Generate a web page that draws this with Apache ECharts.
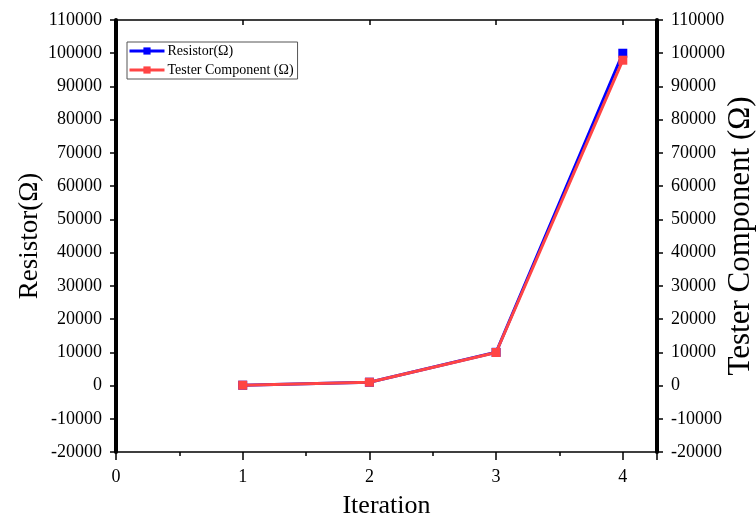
<!DOCTYPE html>
<html>
<head>
<meta charset="utf-8">
<script src="https://cdn.jsdelivr.net/npm/echarts@6/dist/echarts.min.js"></script>
<style>html,body{margin:0;padding:0;background:#fff}#c{width:756px;height:517px}</style>
</head>
<body>
<div id="c"></div>
<script>
const iterations = [1, 2, 3, 4];
const resistorValues = [100, 1000, 10000, 100000];
const testerValues = [100, 1000, 9950, 97900];
const yTickMin = -20000, yTickMax = 110000, yTickStep = 10000;
const xTickMin = 0, xTickMax = 4.27;
const seriesNames = ['Resistor(\u03A9)', 'Tester Component (\u03A9)'];
const axisTitles = { x: 'Iteration', yLeft: 'Resistor(\u03A9)', yRight: 'Tester Component (\u03A9)' };

const FONT = 'Liberation Serif';
const chart = echarts.init(document.getElementById('c'), null, { renderer: 'canvas' });

const pair = (xs, ys) => xs.map((x, i) => [x, ys[i]]);

const yAxisBase = {
  type: 'value', min: yTickMin, max: yTickMax, interval: yTickStep,
  splitLine: { show: false },
  axisLine: { show: true, onZero: false, lineStyle: { color: '#000', width: 4 } },
  axisTick: { show: true, inside: false, length: 6, lineStyle: { color: '#000', width: 1.5 } },
  axisLabel: { color: '#000', fontFamily: FONT, fontSize: 18, margin: 14, formatter: v => String(v) },
  nameLocation: 'middle',
  nameMoveOverlap: false,
  nameTextStyle: { color: '#000', fontFamily: FONT }
};

chart.setOption({
  animation: false,
  backgroundColor: '#fff',
  grid: { left: 116, right: 99, top: 20, bottom: 65, containLabel: false, outerBoundsMode: 'none' },
  legend: {
    orient: 'vertical', left: 127, top: 42,
    borderColor: '#555', borderWidth: 1, padding: [2, 4, 2, 1],
    itemWidth: 35, itemHeight: 9, itemGap: 5,
    lineStyle: { width: 3 },
    textStyle: { color: '#000', fontFamily: FONT, fontSize: 14, padding: [0, 0, 0, -2] },
    data: seriesNames
  },
  xAxis: [
    {
      type: 'value', min: xTickMin, max: xTickMax, interval: 1, position: 'bottom',
      name: axisTitles.x, nameLocation: 'middle', nameGap: 41, nameMoveOverlap: false,
      nameTextStyle: { color: '#000', fontFamily: FONT, fontSize: 26 },
      splitLine: { show: false },
      axisLine: { show: true, onZero: false, lineStyle: { color: '#000', width: 1.5 } },
      axisTick: { show: true, length: 8, lineStyle: { color: '#000', width: 1.5 } },
      axisLabel: { color: '#000', fontFamily: FONT, fontSize: 18, margin: 16,
        formatter: v => (Math.abs(v - Math.round(v)) < 1e-9 ? String(Math.round(v)) : '') }
    },
    {
      type: 'value', min: xTickMin, max: xTickMax, interval: 0.5, position: 'bottom',
      splitLine: { show: false },
      axisLine: { show: false, onZero: false },
      axisTick: { show: true, length: 4, lineStyle: { color: '#000', width: 1.5 } },
      axisLabel: { show: false }
    },
    {
      type: 'value', min: xTickMin, max: xTickMax, interval: 1, position: 'top',
      splitLine: { show: false },
      axisLine: { show: true, onZero: false, lineStyle: { color: '#000', width: 1.5 } },
      axisTick: { show: true, inside: true, length: 5, lineStyle: { color: '#000', width: 1.5 } },
      axisLabel: { show: false }
    }
  ],
  yAxis: [
    Object.assign({}, yAxisBase, {
      position: 'left', name: axisTitles.yLeft, nameGap: 73,
      nameTextStyle: { color: '#000', fontFamily: FONT, fontSize: 27 }
    }),
    Object.assign({}, yAxisBase, {
      position: 'right', name: axisTitles.yRight, nameGap: 68,
      nameTextStyle: { color: '#000', fontFamily: FONT, fontSize: 31 }
    })
  ],
  series: [
    {
      name: seriesNames[0], type: 'line', xAxisIndex: 0, yAxisIndex: 0,
      data: pair(iterations, resistorValues),
      symbol: 'rect', symbolSize: 9, showSymbol: true,
      lineStyle: { color: '#0000ff', width: 3 },
      itemStyle: { color: '#0000ff' }, z: 2
    },
    {
      name: seriesNames[1], type: 'line', xAxisIndex: 0, yAxisIndex: 1,
      data: pair(iterations, testerValues),
      symbol: 'rect', symbolSize: 9, showSymbol: true,
      lineStyle: { color: '#ff4444', width: 3 },
      itemStyle: { color: '#ff4444' }, z: 3
    }
  ]
});
</script>
</body>
</html>
